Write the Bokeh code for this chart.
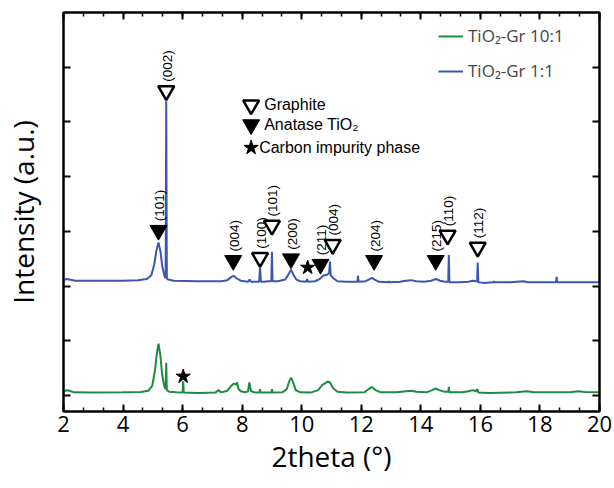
import numpy as np
from bokeh.plotting import figure
from bokeh.models import Range1d, FixedTicker, LinearAxis, Legend, LegendItem
from bokeh.core.properties import value
from bokeh.embed import file_html
from bokeh.resources import INLINE

# ---------------- data ----------------
blue_x = [2.0, 2.1, 2.2, 2.4, 3.0, 4.0, 4.5, 4.8, 4.95, 5.05, 5.12, 5.19, 5.26, 5.32, 5.40, 5.43,
          5.45, 5.47, 5.52, 5.7, 6.5, 7.3, 7.5, 7.62, 7.71, 7.82, 7.95, 8.2, 8.25, 8.3, 8.57,
          8.60, 8.63, 8.75, 8.85, 8.98, 9.00, 9.02, 9.2, 9.45, 9.56, 9.64, 9.72, 9.82, 9.95,
          10.15, 10.18, 10.21, 10.45, 10.6, 10.75, 10.85, 10.92, 10.95, 10.97, 11.05, 11.2,
          11.5, 11.87, 11.89, 11.91, 12.15, 12.28, 12.36, 12.45, 12.6, 12.9, 12.92, 12.94,
          13.3, 13.5, 13.67, 13.85, 14.1, 14.35, 14.5, 14.65, 14.8, 14.92, 14.94, 14.96,
          15.3, 15.6, 15.74, 15.85, 15.89, 15.91, 15.93, 16.1, 16.43, 16.45, 16.47, 17.0,
          17.45, 17.6, 18.0, 18.54, 18.56, 18.58, 19.0, 20.0]
blue_y = [2.11, 2.13, 2.12, 2.10, 2.10, 2.10, 2.11, 2.13, 2.20, 2.40, 2.65, 2.80, 2.62, 2.35, 2.17, 2.15,
          5.38, 2.14, 2.12, 2.10, 2.09, 2.09, 2.11, 2.16, 2.19, 2.14, 2.10, 2.08, 2.12, 2.08, 2.08,
          2.34, 2.08, 2.08, 2.09, 2.09, 2.63, 2.09, 2.09, 2.12, 2.22, 2.30, 2.21, 2.12, 2.09,
          2.08, 2.13, 2.08, 2.09, 2.13, 2.20, 2.21, 2.24, 2.45, 2.20, 2.15, 2.09,
          2.08, 2.08, 2.19, 2.08, 2.09, 2.13, 2.15, 2.12, 2.08, 2.07, 2.09, 2.07,
          2.08, 2.10, 2.11, 2.09, 2.08, 2.10, 2.13, 2.10, 2.08, 2.08, 2.57, 2.07,
          2.07, 2.08, 2.10, 2.09, 2.09, 2.43, 2.07, 2.06, 2.07, 2.09, 2.07, 2.07,
          2.09, 2.07, 2.07, 2.07, 2.17, 2.07, 2.07, 2.07]

green_x = [2.0, 2.1, 2.2, 2.35, 3.0, 4.0, 4.6, 4.85, 4.98, 5.07, 5.13, 5.19, 5.25, 5.31, 5.38, 5.43,
           5.45, 5.47, 5.55, 5.8, 6.0, 6.02, 6.04, 6.5, 7.1, 7.2, 7.3, 7.5, 7.62, 7.72, 7.80,
           7.83, 7.87, 7.95, 8.1, 8.2, 8.24, 8.30, 8.45, 8.58, 8.60, 8.62, 8.98, 9.00, 9.02,
           9.35, 9.5, 9.58, 9.64, 9.70, 9.80, 9.95, 10.3, 10.55, 10.7, 10.80, 10.88, 10.95,
           11.05, 11.2, 11.5, 12.1, 12.25, 12.36, 12.48, 12.65, 13.2, 13.5, 13.67, 13.85,
           14.2, 14.38, 14.5, 14.62, 14.8, 14.92, 14.94, 14.96, 15.4, 15.6, 15.74, 15.85,
           15.90, 15.93, 16.3, 17.2, 17.55, 17.8, 18.5, 19.0, 19.3, 19.5, 20.0]
green_y = [0.07, 0.10, 0.09, 0.06, 0.055, 0.06, 0.065, 0.09, 0.18, 0.45, 0.75, 0.95, 0.75, 0.40, 0.18, 0.12,
           0.60, 0.10, 0.07, 0.06, 0.055, 0.26, 0.055, 0.05, 0.055, 0.10, 0.06, 0.09, 0.17, 0.22, 0.20,
           0.24, 0.13, 0.08, 0.06, 0.08, 0.24, 0.08, 0.055, 0.055, 0.12, 0.055, 0.055, 0.12, 0.055,
           0.06, 0.12, 0.26, 0.33, 0.26, 0.10, 0.06, 0.055, 0.10, 0.20, 0.23, 0.26, 0.24,
           0.14, 0.07, 0.055, 0.06, 0.12, 0.16, 0.10, 0.06, 0.06, 0.08, 0.09, 0.07,
           0.06, 0.10, 0.13, 0.10, 0.07, 0.07, 0.16, 0.06, 0.06, 0.08, 0.10, 0.08,
           0.12, 0.055, 0.05, 0.06, 0.08, 0.06, 0.06, 0.06, 0.08, 0.065, 0.06]

graphite_x = [5.45, 8.60, 9.00, 11.04, 14.90, 15.91]
graphite_y = [5.57, 2.52, 3.11, 2.76, 2.93, 2.71]
graphite_labels = ["(002)", "(100)", "(101)", "(004)", "(110)", "(112)"]

anatase_x = [5.19, 7.70, 9.64, 10.63, 12.43, 14.50]
anatase_y = [3.02, 2.47, 2.50, 2.40, 2.47, 2.47]
anatase_labels = ["(101)", "(004)", "(200)", "(211)", "(204)", "(215)"]

star_x = [10.20, 6.02]
star_y = [2.34, 0.35]

x_ticks = [2, 4, 6, 8, 10, 12, 14, 16, 18, 20]
y_ticks = [0, 1, 2, 3, 4, 5, 6]

series_names = ["TiO\u2082-Gr 10:1", "TiO\u2082-Gr 1:1"]
key_texts = ["Graphite", "Anatase TiO\u2082", "Carbon impurity phase"]

BLUE = "#3B55B2"
GREEN = "#1E8C3E"

# ---------------- figure ----------------
p = figure(width=614, height=488, x_range=Range1d(2, 20), y_range=Range1d(-0.29, 7.0),
           output_backend="svg", toolbar_location=None,
           min_border_left=62, min_border_right=15, min_border_top=12, min_border_bottom=77)
p.grid.visible = False
p.outline_line_color = "black"
p.outline_line_width = 2
p.background_fill_color = "white"
p.border_fill_color = "white"

xticker = FixedTicker(ticks=x_ticks, minor_ticks=list(np.arange(2, 20.001, 2 / 3)))
yticker = FixedTicker(ticks=y_ticks, minor_ticks=[])


def style_axis(ax):
    ax.major_tick_in = 7
    ax.major_tick_out = 0
    ax.minor_tick_in = 4
    ax.minor_tick_out = 0
    ax.axis_line_width = 2
    ax.major_tick_line_width = 2
    ax.minor_tick_line_width = 1.5
    ax.axis_line_color = "black"
    ax.major_tick_line_color = "black"
    ax.minor_tick_line_color = "black"


def hide_labels(ax):
    ax.major_label_text_font_size = "1px"
    ax.major_label_text_color = None
    ax.major_label_standoff = 0


xa = p.xaxis[0]
xa.ticker = xticker
style_axis(xa)
xa.major_label_text_font = "Open Sans"
xa.major_label_text_font_size = "22px"
xa.major_label_text_color = "black"
xa.major_label_standoff = 4
xa.axis_label = "2theta (°)"
xa.axis_label_text_font = "Open Sans"
xa.axis_label_text_font_size = "28px"
xa.axis_label_text_font_style = "normal"
xa.axis_label_text_color = "black"
xa.axis_label_standoff = 2

ya = p.yaxis[0]
ya.ticker = yticker
style_axis(ya)
ya.minor_tick_line_color = None
hide_labels(ya)
ya.axis_label = "Intensity (a.u.)"
ya.axis_label_text_font = "Open Sans"
ya.axis_label_text_font_size = "28px"
ya.axis_label_text_font_style = "normal"
ya.axis_label_text_color = "black"
ya.axis_label_standoff = 22

top = LinearAxis(ticker=xticker)
style_axis(top)
hide_labels(top)
p.add_layout(top, "above")
right = LinearAxis(ticker=yticker)
style_axis(right)
hide_labels(right)
right.minor_tick_line_color = None
p.add_layout(right, "right")

# ---------------- series ----------------
g = p.line(green_x, green_y, line_color=GREEN, line_width=2)
b = p.line(blue_x, blue_y, line_color=BLUE, line_width=2)

# ---------------- peak markers ----------------
p.scatter(graphite_x, graphite_y, marker="inverted_triangle", size=16,
          fill_color="white", line_color="black", line_width=2.5)
p.scatter(anatase_x, anatase_y, marker="inverted_triangle", size=17,
          fill_color="black", line_color="black", line_width=1)
p.scatter(star_x, star_y, marker="star", size=15, fill_color="black", line_color="black")

p.text(graphite_x, graphite_y, text=graphite_labels, angle=np.pi / 2,
       text_font=value("Liberation Sans"), text_font_size=value("13.5px"),
       text_align="left", text_baseline="middle", y_offset=-9, x_offset=1, text_color="black")
p.text(anatase_x, anatase_y, text=anatase_labels, angle=np.pi / 2,
       text_font=value("Liberation Sans"), text_font_size=value("13.5px"),
       text_align="left", text_baseline="middle", y_offset=-9, x_offset=1, text_color="black")

# ---------------- symbol key ----------------
p.scatter([8.30], [5.31], marker="inverted_triangle", size=16,
          fill_color="white", line_color="black", line_width=2.5)
p.scatter([8.30], [4.95], marker="inverted_triangle", size=17,
          fill_color="black", line_color="black")
p.scatter([8.30], [4.53], marker="star", size=15, fill_color="black", line_color="black")
p.text([8.74, 8.74, 8.57], [5.31, 4.95, 4.53], text=key_texts,
       text_font=value("Liberation Sans"), text_font_size=value("16px"),
       text_align="left", text_baseline="middle", text_color="black")

# ---------------- legend ----------------
legend = Legend(items=[LegendItem(label=series_names[0], renderers=[g]),
                       LegendItem(label=series_names[1], renderers=[b])],
                location=(375, 329), border_line_color=None, background_fill_alpha=0,
                label_text_font="Open Sans", label_text_font_size="17px",
                glyph_width=25, glyph_height=20, label_height=20, spacing=12,
                padding=0, margin=0, label_standoff=5)
p.add_layout(legend)

open("out.html", "w").write(file_html(p, INLINE))
